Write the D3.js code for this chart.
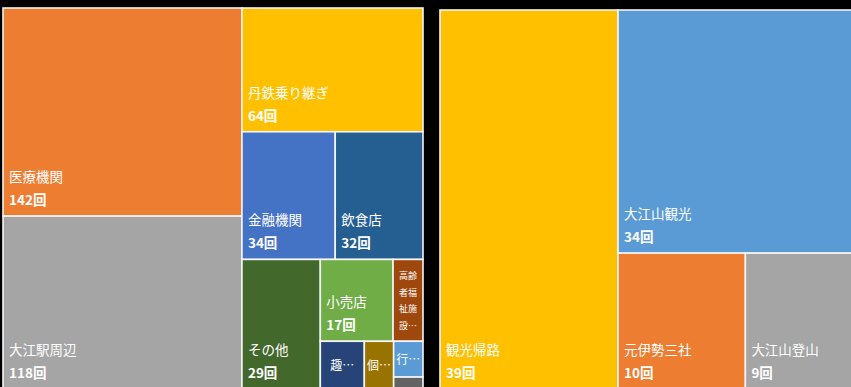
<!DOCTYPE html>
<html lang="ja">
<head>
<meta charset="utf-8">
<script src="https://cdn.jsdelivr.net/npm/d3@7"></script>
<style>
  html, body { margin: 0; padding: 0; background: #000; }
  svg { display: block; }
  text { font-family: "Noto Sans CJK JP", "Noto Sans", sans-serif; fill: #fff; }
</style>
</head>
<body>
<svg id="chart" width="851" height="387"></svg>
<script>
// 利用目的（全体）
const purposeCategories = [
  "医療機関", "大江駅周辺", "丹鉄乗り継ぎ", "金融機関", "飲食店", "その他",
  "小売店", "高齢者福祉施設", "趣味", "個人宅", "行政機関", "郵便局"
];
const purposeCounts = [142, 118, 64, 34, 32, 29, 17, 7, 6, 4, 3, 1];

// 観光目的
const tourismCategories = ["観光帰路", "大江山観光", "元伊勢三社", "大江山登山"];
const tourismCounts = [39, 34, 10, 9];

const countSuffix = "回";

// Office-style tile colours, one per category
const purposePalette = [
  "#ED7D31", "#A5A5A5", "#FFC000", "#4472C4", "#255E91", "#43682B",
  "#70AD47", "#9E480E", "#264478", "#997300", "#5B9BD5", "#636363"
];
const tourismPalette = ["#FFC000", "#5B9BD5", "#ED7D31", "#A5A5A5"];

const panels = [
  { categories: purposeCategories, counts: purposeCounts, palette: purposePalette,
    x0: 3, y0: 8, x1: 423, y1: 389 },
  { categories: tourismCategories, counts: tourismCounts, palette: tourismPalette,
    x0: 440, y0: 10, x1: 860, y1: 389 }
];

// Squarified tiling that scores cells against a preferred width/height ratio
// (slightly portrait) instead of a perfect square.
function portraitSquarify(target) {
  return function (parent, x0, y0, x1, y1) {
    const nodes = parent.children;
    let value = parent.value, i0 = 0;
    while (i0 < nodes.length) {
      const dx = x1 - x0, dy = y1 - y0;
      const across = dx < dy; // row laid along the top edge
      const worst = (i1, sum) => {
        let w = 0;
        for (let i = i0; i < i1; i++) {
          const v = nodes[i].value;
          const cw = across ? dx * v / sum : dx * sum / value;
          const ch = across ? dy * sum / value : dy * v / sum;
          const a = cw / ch;
          w = Math.max(w, a / target, target / a);
        }
        return w;
      };
      let i1 = i0 + 1, sum = nodes[i0].value, best = worst(i1, sum);
      while (i1 < nodes.length) {
        const s2 = sum + nodes[i1].value;
        const r2 = worst(i1 + 1, s2);
        if (r2 > best) break;
        best = r2; sum = s2; i1++;
      }
      const row = { value: sum, children: nodes.slice(i0, i1) };
      const last = i1 >= nodes.length;
      if (across) {
        const yy = last ? y1 : y0 + dy * sum / value;
        d3.treemapDice(row, x0, y0, x1, yy); y0 = yy;
      } else {
        const xx = last ? x1 : x0 + dx * sum / value;
        d3.treemapSlice(row, x0, y0, xx, y1); x0 = xx;
      }
      value -= sum; i0 = i1;
    }
  };
}

const svg = d3.select("#chart");
svg.append("rect").attr("width", 851).attr("height", 387).attr("fill", "#000");

function drawLabel(g, d) {
  const w = d.x1 - d.x0, h = d.y1 - d.y0;
  const name = d.data.name;
  const valueText = d.data.value + countSuffix;

  const probe = g.append("text").attr("font-size", 13.5).text(name);
  const tw = probe.node().getComputedTextLength();
  if (tw + 10 <= w && h >= 50) {
    probe.attr("x", d.x0 + 6).attr("y", d.y1 - 34);
    g.append("text")
      .attr("font-size", 13.5).attr("font-weight", "bold")
      .attr("x", d.x0 + 6).attr("y", d.y1 - 11)
      .text(valueText);
    return;
  }
  probe.remove();

  const cx = (d.x0 + d.x1) / 2, cy = (d.y0 + d.y1) / 2;
  const chars = Array.from(name);

  if (w < 40 && h >= 60) {
    // narrow tall tile: wrap the name a few characters per line
    const fs = 9, lineH = 16.5;
    const perLine = Math.max(1, Math.floor((w - 8) / fs));
    const maxLines = Math.max(1, Math.floor((h - 10) / lineH));
    let lines = [];
    for (let i = 0; i < chars.length; i += perLine) lines.push(chars.slice(i, i + perLine).join(""));
    lines = lines.slice(0, maxLines);
    const lastChars = Array.from(lines[lines.length - 1]).slice(0, Math.max(1, perLine - 1));
    lines[lines.length - 1] = lastChars.join("") + "…";
    const t = g.append("text").attr("font-size", fs).attr("text-anchor", "middle");
    lines.forEach((ln, i) => {
      t.append("tspan")
        .attr("x", cx)
        .attr("y", cy - (lines.length - 1) * lineH / 2 + i * lineH + fs * 0.38)
        .text(ln);
    });
    return;
  }

  if (w >= 20 && h >= 20) {
    // small tile: shortened name, centred
    const fs = 12;
    const n = Math.max(1, Math.floor((w - 10) / fs) - 2);
    g.append("text")
      .attr("font-size", fs).attr("text-anchor", "middle")
      .attr("x", cx).attr("y", cy + fs * 0.38)
      .text(chars.slice(0, n).join("") + "…");
  }
}

panels.forEach(p => {
  const items = p.categories.map((name, i) => ({ name, value: p.counts[i] }));
  const color = d3.scaleOrdinal().domain(p.categories).range(p.palette);

  const root = d3.hierarchy({ children: items })
    .sum(d => d.value || 0)
    .sort((a, b) => b.value - a.value);

  d3.treemap()
    .size([p.x1 - p.x0, p.y1 - p.y0])
    .tile(portraitSquarify(0.75))
    .round(false)(root);

  const g = svg.append("g").attr("transform", `translate(${p.x0},${p.y0})`);

  g.selectAll("rect.tile")
    .data(root.leaves())
    .join("rect")
    .attr("class", "tile")
    .attr("x", d => d.x0)
    .attr("y", d => d.y0)
    .attr("width", d => d.x1 - d.x0)
    .attr("height", d => d.y1 - d.y0)
    .attr("fill", d => color(d.data.name))
    .attr("stroke", "#f4f4f4")
    .attr("stroke-width", 1.6);

  const labels = g.append("g");
  root.leaves().forEach(d => drawLabel(labels, d));
});
</script>
</body>
</html>
